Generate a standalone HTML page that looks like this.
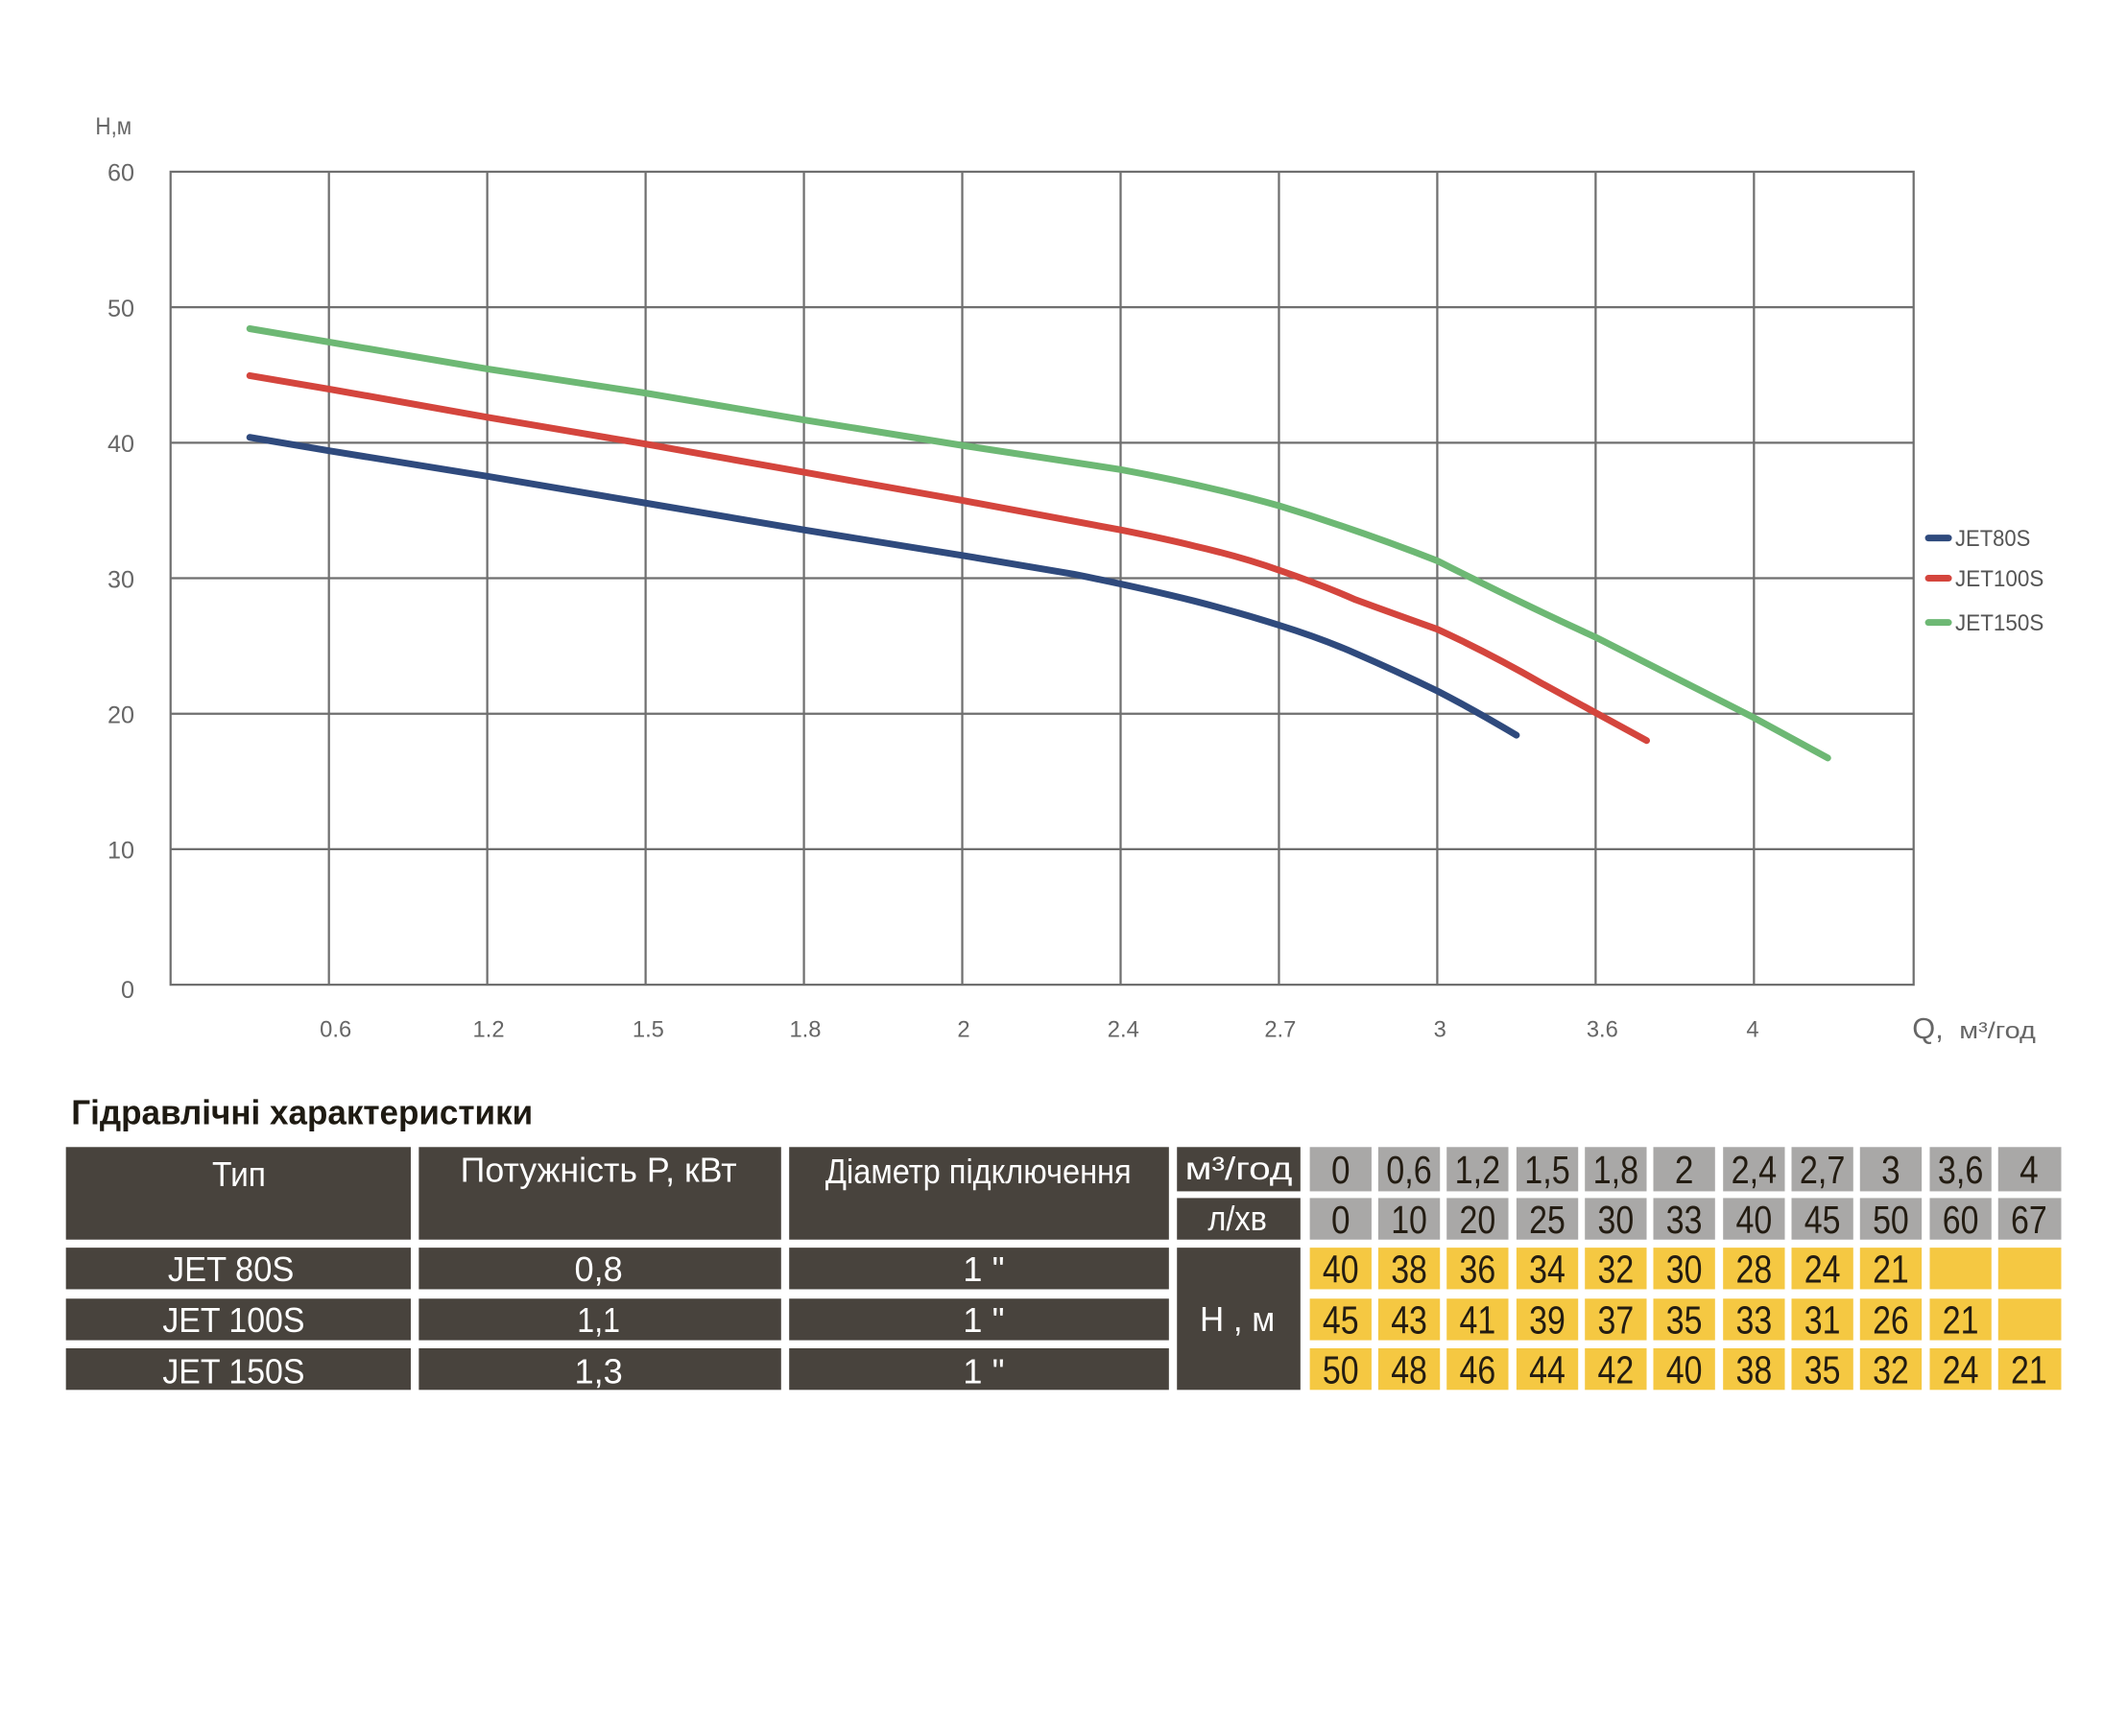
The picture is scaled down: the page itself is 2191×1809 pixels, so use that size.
<!DOCTYPE html>
<html><head><meta charset="utf-8">
<style>
html,body{margin:0;padding:0;background:#fff;}
svg{display:block;}
text{font-family:"Liberation Sans",sans-serif;}
</style></head>
<body>
<svg width="2191" height="1809" viewBox="0 0 1567 1294" xmlns="http://www.w3.org/2000/svg">
<rect width="1567" height="1294" fill="#fff"/>
<g stroke="#6f6f6f" stroke-width="1.6" fill="none">
<rect x="127" y="128" width="1299" height="606"/>
<path d="M245 128V734M363 128V734M481 128V734M599 128V734M717 128V734M835 128V734M953 128V734M1071 128V734M1189 128V734M1307 128V734"/>
<path d="M127 229H1426M127 330H1426M127 431H1426M127 532H1426M127 633H1426"/>
</g>
<g fill="#666" font-size="18">
<text x="71" y="100" textLength="27" lengthAdjust="spacingAndGlyphs">Н,м</text>
<g text-anchor="end">
<text x="100" y="135">60</text><text x="100" y="236">50</text><text x="100" y="337">40</text>
<text x="100" y="438">30</text><text x="100" y="539">20</text><text x="100" y="640">10</text><text x="100" y="744">0</text>
</g>
<g text-anchor="middle" font-size="17">
<text x="250" y="773">0.6</text><text x="364" y="773">1.2</text><text x="483" y="773">1.5</text>
<text x="600" y="773">1.8</text><text x="718" y="773">2</text><text x="837" y="773">2.4</text>
<text x="954" y="773">2.7</text><text x="1073" y="773">3</text><text x="1194" y="773">3.6</text><text x="1306" y="773">4</text>
</g>
<text x="1425" y="774" font-size="22">Q,</text>
<text x="1460" y="774" font-size="17" textLength="57" lengthAdjust="spacingAndGlyphs">м³/год</text>
</g>
<g fill="none" stroke-width="5" stroke-linecap="round" stroke-linejoin="round">
<path stroke="#2f4a7d" d="M186 326 L245 336 L363 355 L481 375 L599 395 L717 414 L800 428 Q850 438 890 448 Q925 457 953 466 Q985 476 1010 487 Q1040 500 1071 515 Q1100 530 1130 548"/>
<path stroke="#d4453d" d="M186 280 L245 290 L363 311 L481 331 L599 352 L717 373 L835 395 Q870 402 890 407 Q925 415 953 425 Q985 436 1010 447 Q1040 458 1071 469 Q1110 487 1150 510 L1227 552"/>
<path stroke="#6db874" d="M186 245 L245 255 L363 275 L481 293 L599 313 L717 332 L835 350 Q900 362 953 377 Q1015 396 1071 418 Q1130 448 1189 475 L1307 535 L1362 565"/>
</g>
<g stroke-width="5" stroke-linecap="round">
<line x1="1437" y1="401" x2="1452" y2="401" stroke="#2f4a7d"/>
<line x1="1437" y1="431" x2="1452" y2="431" stroke="#d4453d"/>
<line x1="1437" y1="464" x2="1452" y2="464" stroke="#6db874"/>
</g>
<g fill="#555" font-size="17">
<text x="1457" y="407" textLength="56" lengthAdjust="spacingAndGlyphs">JET80S</text>
<text x="1457" y="437" textLength="66" lengthAdjust="spacingAndGlyphs">JET100S</text>
<text x="1457" y="470" textLength="66" lengthAdjust="spacingAndGlyphs">JET150S</text>
</g>
<text x="53" y="838" font-size="26" font-weight="bold" fill="#1e1a12" textLength="344" lengthAdjust="spacingAndGlyphs">Гідравлічні характеристики</text>
<g fill="#48433d">
<rect x="49" y="855" width="257" height="69"/>
<rect x="312" y="855" width="270" height="69"/>
<rect x="588" y="855" width="283" height="69"/>
<rect x="877" y="855" width="92" height="33"/>
<rect x="877" y="893" width="92" height="31"/>
<rect x="49" y="930" width="257" height="31"/><rect x="312" y="930" width="270" height="31"/><rect x="588" y="930" width="283" height="31"/>
<rect x="49" y="968" width="257" height="31"/><rect x="312" y="968" width="270" height="31"/><rect x="588" y="968" width="283" height="31"/>
<rect x="49" y="1005" width="257" height="31"/><rect x="312" y="1005" width="270" height="31"/><rect x="588" y="1005" width="283" height="31"/>
<rect x="877" y="930" width="92" height="106"/>
</g>
<g fill="#fff" font-size="26" text-anchor="middle">
<text x="178" y="884" textLength="40" lengthAdjust="spacingAndGlyphs">Тип</text>
<text x="446" y="881" textLength="206" lengthAdjust="spacingAndGlyphs">Потужність  P, кВт</text>
<text x="729" y="882" textLength="228" lengthAdjust="spacingAndGlyphs">Діаметр підключення</text>
<text x="923" y="879" font-size="24" textLength="80" lengthAdjust="spacingAndGlyphs">м³/год</text>
<text x="922" y="917" textLength="44" lengthAdjust="spacingAndGlyphs">л/хв</text>
<text x="172" y="955" textLength="94" lengthAdjust="spacingAndGlyphs">JET  80S</text>
<text x="174" y="993" textLength="106" lengthAdjust="spacingAndGlyphs">JET  100S</text>
<text x="174" y="1031" textLength="106" lengthAdjust="spacingAndGlyphs">JET  150S</text>
<text x="446" y="955" textLength="36" lengthAdjust="spacingAndGlyphs">0,8</text>
<text x="446" y="993" textLength="32" lengthAdjust="spacingAndGlyphs">1,1</text>
<text x="446" y="1031" textLength="36" lengthAdjust="spacingAndGlyphs">1,3</text>
<text x="733" y="955">1 "</text><text x="733" y="993">1 "</text><text x="733" y="1031">1 "</text>
<text x="922" y="992" textLength="56" lengthAdjust="spacingAndGlyphs">Н , м</text>
</g>
<g fill="#a9a8a7">
<rect x="976" y="855" width="46" height="33"/><rect x="1027" y="855" width="46" height="33"/><rect x="1078" y="855" width="46" height="33"/><rect x="1130" y="855" width="46" height="33"/><rect x="1181" y="855" width="46" height="33"/><rect x="1232" y="855" width="46" height="33"/><rect x="1284" y="855" width="46" height="33"/><rect x="1335" y="855" width="46" height="33"/><rect x="1386" y="855" width="46" height="33"/><rect x="1438" y="855" width="46" height="33"/><rect x="1489" y="855" width="47" height="33"/>
<rect x="976" y="893" width="46" height="31"/><rect x="1027" y="893" width="46" height="31"/><rect x="1078" y="893" width="46" height="31"/><rect x="1130" y="893" width="46" height="31"/><rect x="1181" y="893" width="46" height="31"/><rect x="1232" y="893" width="46" height="31"/><rect x="1284" y="893" width="46" height="31"/><rect x="1335" y="893" width="46" height="31"/><rect x="1386" y="893" width="46" height="31"/><rect x="1438" y="893" width="46" height="31"/><rect x="1489" y="893" width="47" height="31"/>
</g>
<g fill="#f5c842">
<rect x="976" y="930" width="46" height="31"/><rect x="1027" y="930" width="46" height="31"/><rect x="1078" y="930" width="46" height="31"/><rect x="1130" y="930" width="46" height="31"/><rect x="1181" y="930" width="46" height="31"/><rect x="1232" y="930" width="46" height="31"/><rect x="1284" y="930" width="46" height="31"/><rect x="1335" y="930" width="46" height="31"/><rect x="1386" y="930" width="46" height="31"/><rect x="1438" y="930" width="46" height="31"/><rect x="1489" y="930" width="47" height="31"/>
<rect x="976" y="968" width="46" height="31"/><rect x="1027" y="968" width="46" height="31"/><rect x="1078" y="968" width="46" height="31"/><rect x="1130" y="968" width="46" height="31"/><rect x="1181" y="968" width="46" height="31"/><rect x="1232" y="968" width="46" height="31"/><rect x="1284" y="968" width="46" height="31"/><rect x="1335" y="968" width="46" height="31"/><rect x="1386" y="968" width="46" height="31"/><rect x="1438" y="968" width="46" height="31"/><rect x="1489" y="968" width="47" height="31"/>
<rect x="976" y="1005" width="46" height="31"/><rect x="1027" y="1005" width="46" height="31"/><rect x="1078" y="1005" width="46" height="31"/><rect x="1130" y="1005" width="46" height="31"/><rect x="1181" y="1005" width="46" height="31"/><rect x="1232" y="1005" width="46" height="31"/><rect x="1284" y="1005" width="46" height="31"/><rect x="1335" y="1005" width="46" height="31"/><rect x="1386" y="1005" width="46" height="31"/><rect x="1438" y="1005" width="46" height="31"/><rect x="1489" y="1005" width="47" height="31"/>
</g>
<g fill="#231c12" font-size="29" text-anchor="middle">
<text x="999" y="882" textLength="14" lengthAdjust="spacingAndGlyphs">0</text>
<text x="1050" y="882" textLength="34" lengthAdjust="spacingAndGlyphs">0,6</text>
<text x="1101" y="882" textLength="34" lengthAdjust="spacingAndGlyphs">1,2</text>
<text x="1153" y="882" textLength="34" lengthAdjust="spacingAndGlyphs">1,5</text>
<text x="1204" y="882" textLength="34" lengthAdjust="spacingAndGlyphs">1,8</text>
<text x="1255" y="882" textLength="14" lengthAdjust="spacingAndGlyphs">2</text>
<text x="1307" y="882" textLength="34" lengthAdjust="spacingAndGlyphs">2,4</text>
<text x="1358" y="882" textLength="34" lengthAdjust="spacingAndGlyphs">2,7</text>
<text x="1409" y="882" textLength="14" lengthAdjust="spacingAndGlyphs">3</text>
<text x="1461" y="882" textLength="34" lengthAdjust="spacingAndGlyphs">3,6</text>
<text x="1512" y="882" textLength="14" lengthAdjust="spacingAndGlyphs">4</text>
<text x="999" y="919" textLength="14" lengthAdjust="spacingAndGlyphs">0</text>
<text x="1050" y="919" textLength="27" lengthAdjust="spacingAndGlyphs">10</text>
<text x="1101" y="919" textLength="27" lengthAdjust="spacingAndGlyphs">20</text>
<text x="1153" y="919" textLength="27" lengthAdjust="spacingAndGlyphs">25</text>
<text x="1204" y="919" textLength="27" lengthAdjust="spacingAndGlyphs">30</text>
<text x="1255" y="919" textLength="27" lengthAdjust="spacingAndGlyphs">33</text>
<text x="1307" y="919" textLength="27" lengthAdjust="spacingAndGlyphs">40</text>
<text x="1358" y="919" textLength="27" lengthAdjust="spacingAndGlyphs">45</text>
<text x="1409" y="919" textLength="27" lengthAdjust="spacingAndGlyphs">50</text>
<text x="1461" y="919" textLength="27" lengthAdjust="spacingAndGlyphs">60</text>
<text x="1512" y="919" textLength="27" lengthAdjust="spacingAndGlyphs">67</text>
<text x="999" y="956" textLength="27" lengthAdjust="spacingAndGlyphs">40</text>
<text x="1050" y="956" textLength="27" lengthAdjust="spacingAndGlyphs">38</text>
<text x="1101" y="956" textLength="27" lengthAdjust="spacingAndGlyphs">36</text>
<text x="1153" y="956" textLength="27" lengthAdjust="spacingAndGlyphs">34</text>
<text x="1204" y="956" textLength="27" lengthAdjust="spacingAndGlyphs">32</text>
<text x="1255" y="956" textLength="27" lengthAdjust="spacingAndGlyphs">30</text>
<text x="1307" y="956" textLength="27" lengthAdjust="spacingAndGlyphs">28</text>
<text x="1358" y="956" textLength="27" lengthAdjust="spacingAndGlyphs">24</text>
<text x="1409" y="956" textLength="27" lengthAdjust="spacingAndGlyphs">21</text>
<text x="999" y="994" textLength="27" lengthAdjust="spacingAndGlyphs">45</text>
<text x="1050" y="994" textLength="27" lengthAdjust="spacingAndGlyphs">43</text>
<text x="1101" y="994" textLength="27" lengthAdjust="spacingAndGlyphs">41</text>
<text x="1153" y="994" textLength="27" lengthAdjust="spacingAndGlyphs">39</text>
<text x="1204" y="994" textLength="27" lengthAdjust="spacingAndGlyphs">37</text>
<text x="1255" y="994" textLength="27" lengthAdjust="spacingAndGlyphs">35</text>
<text x="1307" y="994" textLength="27" lengthAdjust="spacingAndGlyphs">33</text>
<text x="1358" y="994" textLength="27" lengthAdjust="spacingAndGlyphs">31</text>
<text x="1409" y="994" textLength="27" lengthAdjust="spacingAndGlyphs">26</text>
<text x="1461" y="994" textLength="27" lengthAdjust="spacingAndGlyphs">21</text>
<text x="999" y="1031" textLength="27" lengthAdjust="spacingAndGlyphs">50</text>
<text x="1050" y="1031" textLength="27" lengthAdjust="spacingAndGlyphs">48</text>
<text x="1101" y="1031" textLength="27" lengthAdjust="spacingAndGlyphs">46</text>
<text x="1153" y="1031" textLength="27" lengthAdjust="spacingAndGlyphs">44</text>
<text x="1204" y="1031" textLength="27" lengthAdjust="spacingAndGlyphs">42</text>
<text x="1255" y="1031" textLength="27" lengthAdjust="spacingAndGlyphs">40</text>
<text x="1307" y="1031" textLength="27" lengthAdjust="spacingAndGlyphs">38</text>
<text x="1358" y="1031" textLength="27" lengthAdjust="spacingAndGlyphs">35</text>
<text x="1409" y="1031" textLength="27" lengthAdjust="spacingAndGlyphs">32</text>
<text x="1461" y="1031" textLength="27" lengthAdjust="spacingAndGlyphs">24</text>
<text x="1512" y="1031" textLength="27" lengthAdjust="spacingAndGlyphs">21</text>
</g>
</svg>
</body></html>
